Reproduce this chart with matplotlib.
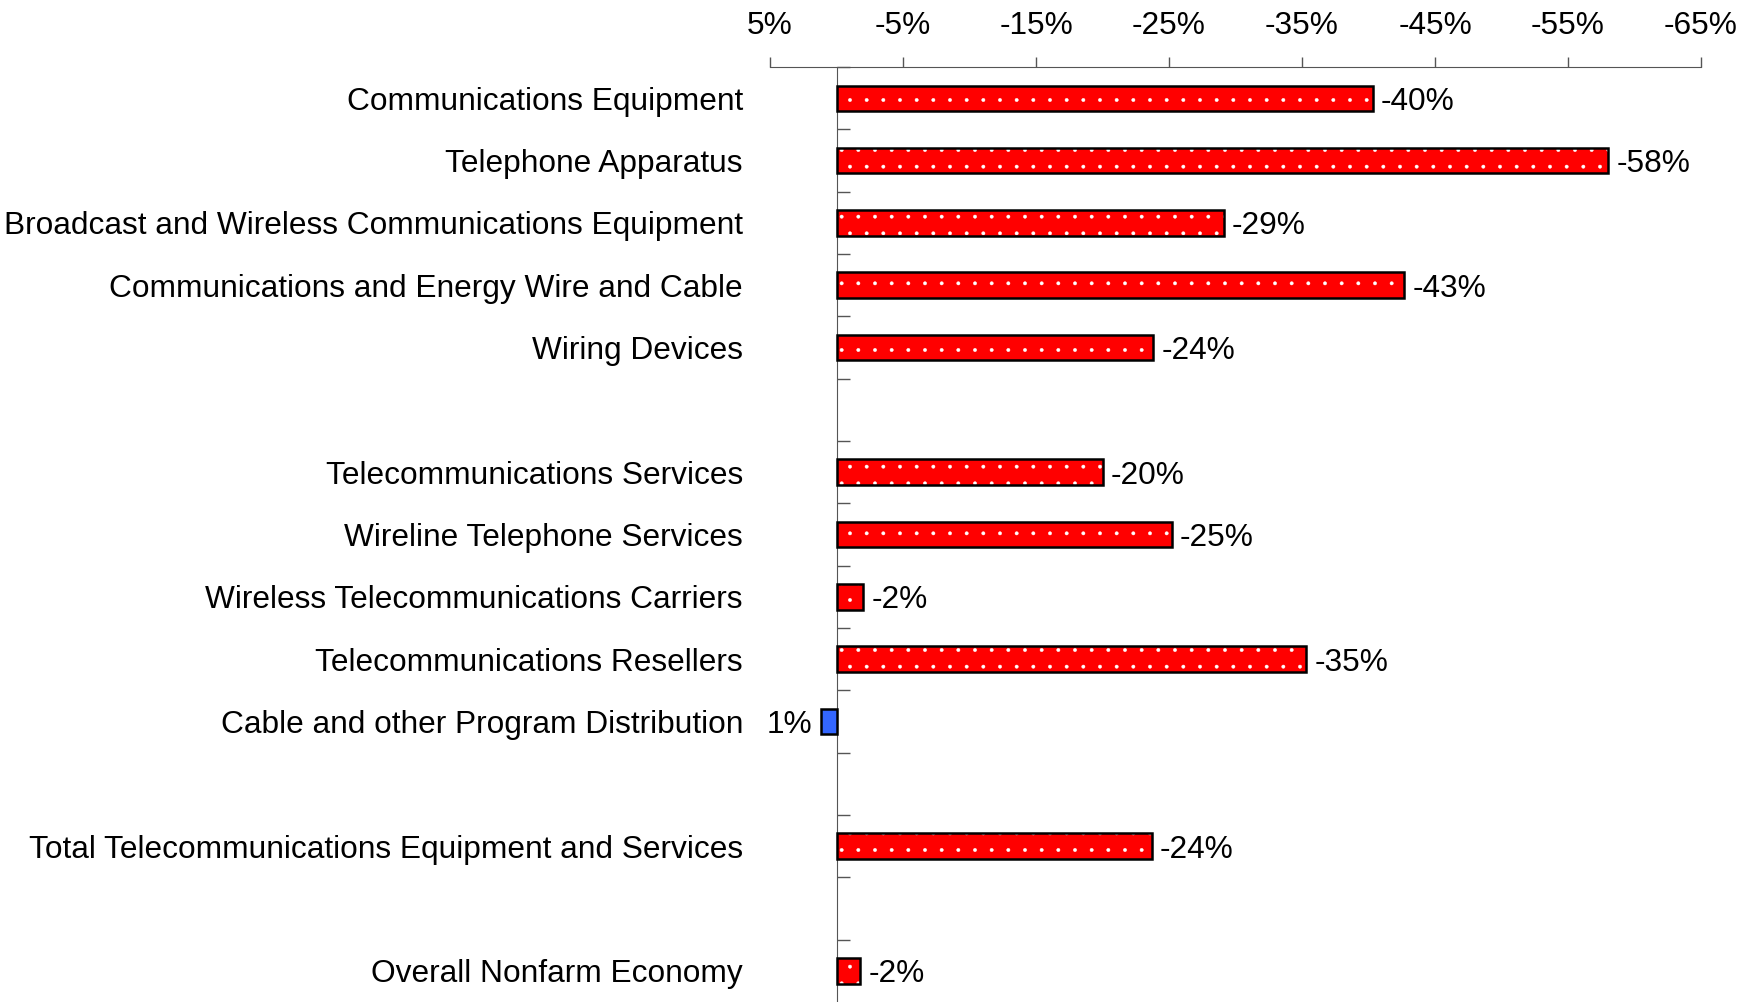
import matplotlib
matplotlib.use("Agg")
import matplotlib.pyplot as plt
import matplotlib.transforms as mtransforms
import numpy as np

plt.rcParams["font.family"] = ["Liberation Sans", "DejaVu Sans"]
plt.rcParams["hatch.linewidth"] = 0.3

# data, blank strings are the spacer rows between groups
categories = [
    "Communications Equipment",
    "Telephone Apparatus",
    "Broadcast and Wireless Communications Equipment",
    "Communications and Energy Wire and Cable",
    "Wiring Devices",
    "",
    "Telecommunications Services",
    "Wireline Telephone Services",
    "Wireless Telecommunications Carriers",
    "Telecommunications Resellers",
    "Cable and other Program Distribution",
    "",
    "Total Telecommunications Equipment and Services",
    "",
    "Overall Nonfarm Economy",
]
values = [-40.3, -58.0, -29.1, -42.7, -23.8, np.nan,
          -20.0, -25.2, -2.0, -35.3, 1.2, np.nan,
          -23.7, np.nan, -1.8]
x_ticks = [5, -5, -15, -25, -35, -45, -55, -65]

RED = "#ff0000"
BLUE = "#3366ff"
FS = 22.8

fig = plt.figure(figsize=(17.6, 10.02), dpi=100)
ax = fig.add_axes([0.4375, 0.0, 0.529, 0.933])

y = np.arange(len(categories))
vals = np.array(values, dtype=float)
has = ~np.isnan(vals)
neg = has & (vals < 0)
pos = has & (vals >= 0)

# red bars with white dot pattern, then black outline on top
ax.barh(y[neg], vals[neg], height=0.41, color=RED, edgecolor="white",
        hatch=".", linewidth=0, zorder=2)
ax.barh(y[neg], vals[neg], height=0.41, fill=False, edgecolor="black",
        linewidth=1.8, zorder=3)
ax.barh(y[pos], vals[pos], height=0.41, color=BLUE, edgecolor="black",
        linewidth=1.8, zorder=3)

for yi, v in zip(y[has], vals[has]):
    txt = f"{v:.0f}%"
    if v < 0:
        ax.annotate(txt, (v, yi), xytext=(6, 0), textcoords="offset points",
                    ha="left", va="center_baseline", fontsize=FS)
    else:
        ax.annotate(txt, (v, yi), xytext=(-6, 0), textcoords="offset points",
                    ha="right", va="center_baseline", fontsize=FS)

# category labels sit left of the axes, not the zero line
trans = mtransforms.blended_transform_factory(ax.transAxes, ax.transData)
for yi, name in zip(y, categories):
    if name:
        ax.text(-0.029, yi, name, transform=trans, ha="right",
                va="center_baseline", fontsize=FS)

ax.set_xlim(5, -65)
ax.set_ylim(len(categories) - 0.5, -0.5)

ax.xaxis.tick_top()
ax.set_xticks(x_ticks)
ax.set_xticklabels([f"{t}%" for t in x_ticks], fontsize=FS)
ax.tick_params(axis="x", direction="out", length=7, width=1, color="#555555",
               pad=12)

# zero line acts as the y axis, ticks between rows pointing right
ax.spines["left"].set_position(("data", 0))
ax.spines["left"].set_color("#555555")
ax.spines["top"].set_color("#555555")
ax.spines["right"].set_visible(False)
ax.spines["bottom"].set_visible(False)
ax.set_yticks(np.arange(-0.5, len(categories) - 0.5, 1.0))
ax.set_yticklabels([])
ax.tick_params(axis="y", direction="in", length=9, width=1, color="#555555")

fig.savefig("out.png", dpi=100)
